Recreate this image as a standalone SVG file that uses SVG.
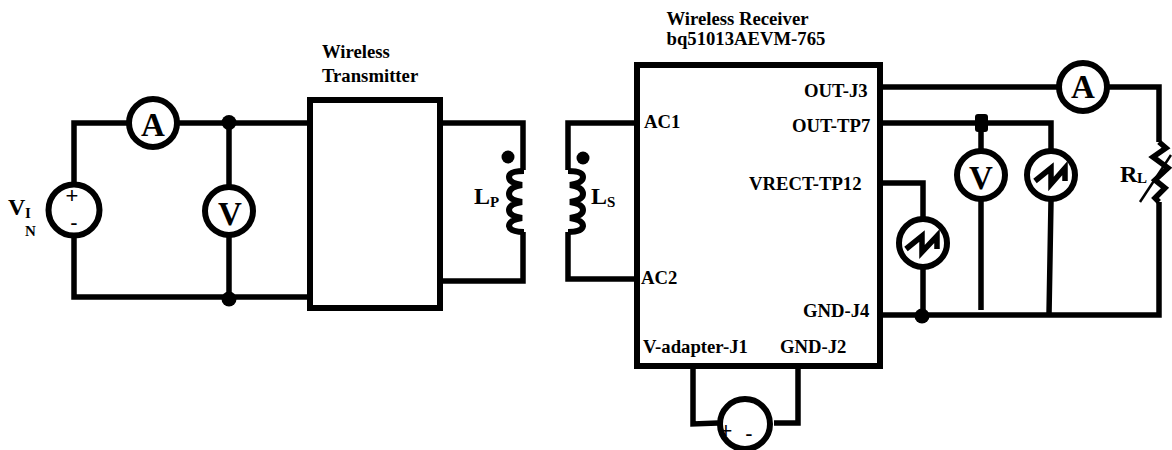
<svg xmlns="http://www.w3.org/2000/svg" width="1172" height="450" viewBox="0 0 1172 450">
<style>
.w{fill:none;stroke:#000;stroke-width:5.5}
.b{fill:none;stroke:#000;stroke-width:6}
.c{fill:none;stroke:#000;stroke-width:6}
.m{fill:#fff;stroke:#000;stroke-width:6}
.d{fill:#000}
.t{font-family:"Liberation Serif","Times New Roman",serif;font-weight:bold;fill:#000}
.l{font-size:18.7px}
.g{font-size:33px;text-anchor:middle}
.n{font-size:24px}
.u{font-size:15px}
.s{font-family:"Liberation Sans",Arial,sans-serif;font-size:22px;fill:#000;text-anchor:middle}
.z{fill:none;stroke:#000;stroke-width:5.5;stroke-linejoin:miter}
.y{fill:none;stroke:#000;stroke-width:5.5;stroke-linejoin:miter;stroke-miterlimit:8}
</style>
<rect width="1172" height="450" fill="#fff"/>
<g id="connectors">
<path class="w" d="M74 183V123H128M178 123H308M229 123V185M229 237V298M74 235V297H310"/>
<path class="w" d="M443 123H523V170M523 232V281H440"/>
<path class="w" d="M636 123H568V170M568 232V279H637"/>
<path class="w" d="M879 87H1058M1108 87H1159V142M1159 202V315H879"/>
<path class="w" d="M879 123H1051V150M981 123V150M981 201V310M1051 201L1049 315"/>
<path class="w" d="M879 183H923V217M923 269V316"/>
<path class="w" d="M693 366V424L718 423M798 366V423H774"/>
</g>
<g id="junctions">
<circle class="d" cx="229" cy="122.500" r="7.500"/>
<circle class="d" cx="229" cy="299" r="7.500"/>
<rect class="d" x="975" y="114" width="13" height="18" rx="3"/>
<circle class="d" cx="922" cy="316" r="7.500"/>
</g>
<g id="source-vin">
<circle class="m" cx="74" cy="210" r="25.500"/>
<text class="s" x="72" y="203">+</text>
<text class="s" x="74" y="230">-</text>
<text class="t n" x="8" y="215">V</text>
<text class="t u" x="25" y="218">I</text>
<text class="t u" x="25" y="236">N</text>
</g>
<g id="ammeter-in">
<circle class="m" cx="153" cy="123" r="24"/>
<text class="t g" x="153" y="136">A</text>
</g>
<g id="voltmeter-in">
<circle class="m" cx="229" cy="211" r="24"/>
<text class="t g" x="230" y="225">V</text>
</g>
<g id="transmitter">
<rect class="b" x="310" y="100" width="130" height="208"/>
<text class="t l" x="322" y="58">Wireless</text>
<text class="t l" x="322" y="82">Transmitter</text>
</g>
<g id="coil-primary">
<circle class="d" cx="508" cy="157" r="6.500"/>
<path class="c" d="M524 171Q509 171 509 177Q509 183 522 185Q509 187 509 194Q509 200 522 202Q509 204 509 210Q509 216 522 218Q509 220 509 226Q510 232 524 232"/>
<text class="t n" x="474" y="204">L</text>
<text class="t u" x="490" y="207">P</text>
</g>
<g id="coil-secondary">
<circle class="d" cx="583" cy="158" r="6.500"/>
<path class="c" d="M568 171Q583 171 583 177Q583 183 570 185Q583 187 583 194Q583 200 570 202Q583 204 583 210Q583 216 570 218Q583 220 583 226Q582 232 568 232"/>
<text class="t n" x="591" y="204">L</text>
<text class="t u" x="607" y="207">S</text>
</g>
<g id="receiver">
<rect class="b" x="637" y="65" width="243" height="301"/>
<text class="t l" x="666.500" y="25">Wireless Receiver</text>
<text class="t l" x="666.500" y="45">bq51013AEVM-765</text>
<text class="t l" x="644" y="128">AC1</text>
<text class="t l" x="641" y="284">AC2</text>
<text class="t l" x="804" y="97">OUT-J3</text>
<text class="t l" x="792" y="132">OUT-TP7</text>
<text class="t l" x="749" y="190">VRECT-TP12</text>
<text class="t l" x="803" y="317">GND-J4</text>
<text class="t l" x="643" y="353">V-adapter-J1</text>
<text class="t l" x="780" y="353">GND-J2</text>
</g>
<g id="ammeter-out">
<circle class="m" cx="1083" cy="87" r="24"/>
<text class="t g" x="1083" y="98">A</text>
</g>
<g id="voltmeter-out">
<circle class="m" cx="981" cy="175" r="24"/>
<text class="t g" x="981" y="189">V</text>
</g>
<g id="scope-tp7">
<circle class="m" cx="1051" cy="175" r="24"/>
<path class="y" d="M1035 181L1051 168V184L1065 168V181"/>
</g>
<g id="scope-vrect">
<circle class="m" cx="923" cy="243" r="24"/>
<path class="y" d="M906 249L922 236V252L937 236V249"/>
</g>
<g id="load">
<path class="z" d="M1159 142L1166 148L1153 157L1168 168L1155 180L1165 188L1155 198L1159 202"/>
<path d="M1140 202L1171 155" fill="none" stroke="#000" stroke-width="2.500"/>
<text class="t n" x="1120" y="182">R</text>
<text class="t u" x="1137" y="183">L</text>
</g>
<g id="source-adapter">
<circle class="m" cx="745" cy="424" r="25"/>
<text class="s" x="726" y="438">+</text>
<text class="s" x="749" y="441">-</text>
</g>
</svg>
